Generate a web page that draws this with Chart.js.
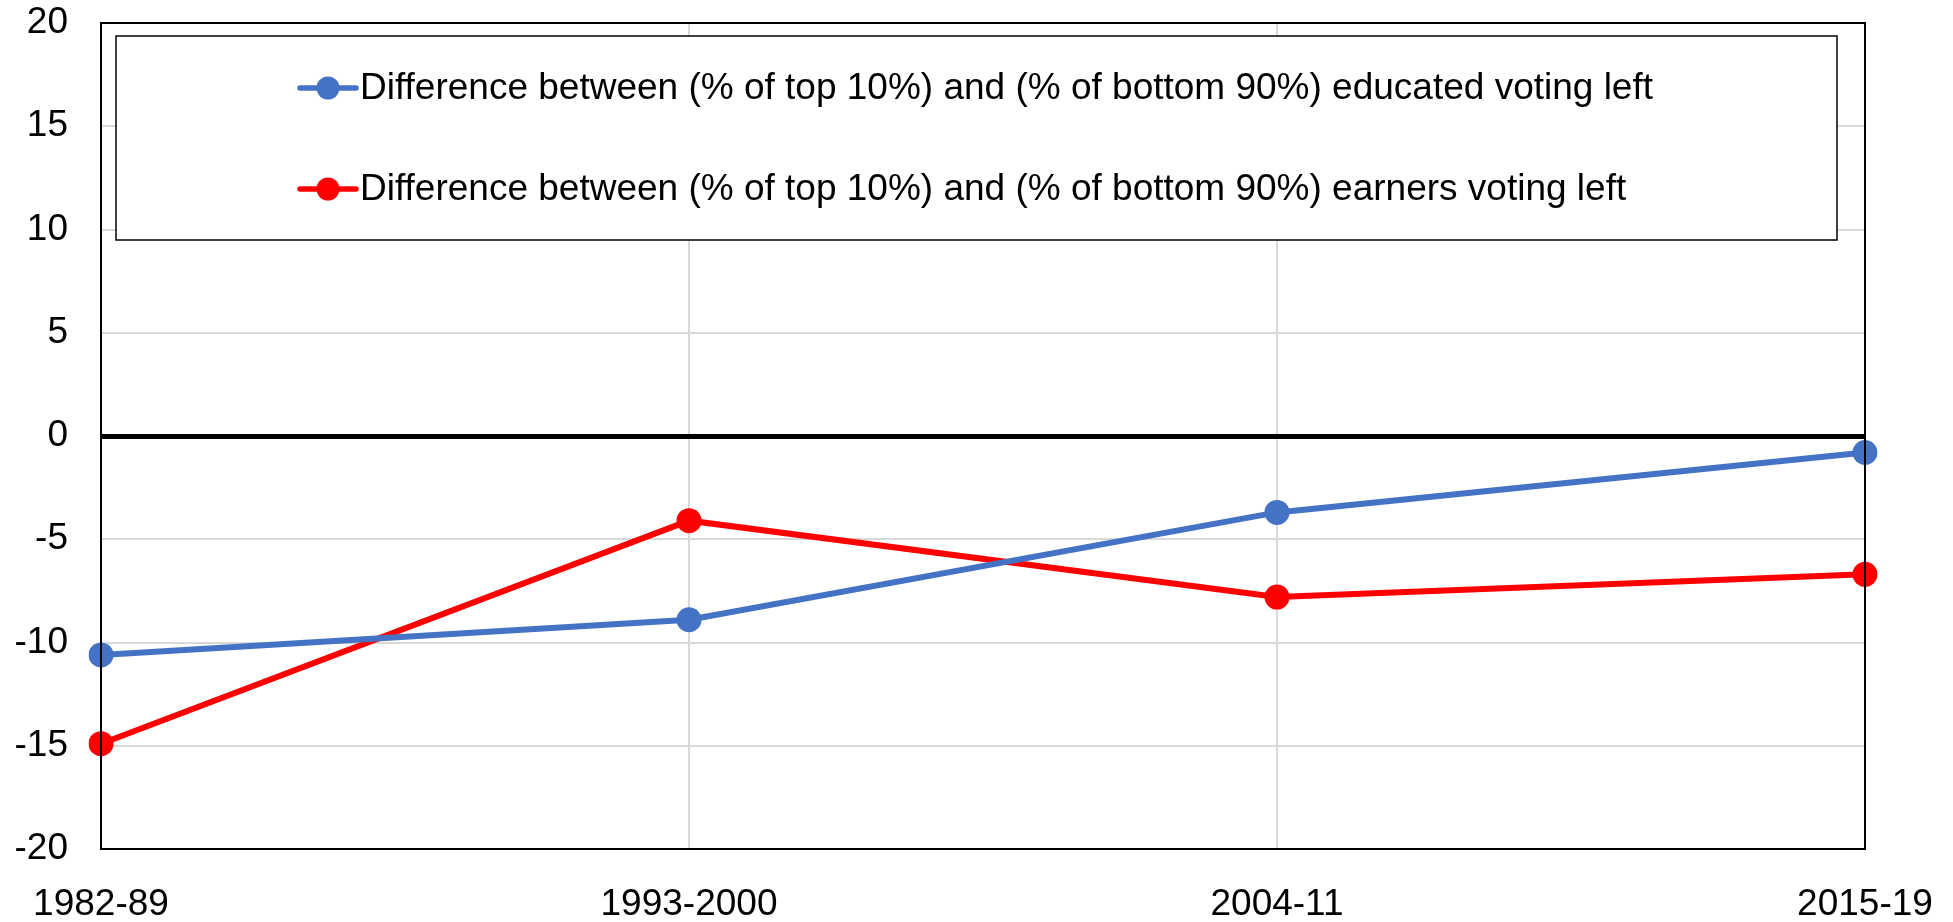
<!DOCTYPE html>
<html>
<head>
<meta charset="utf-8">
<script src="https://cdn.jsdelivr.net/npm/chart.js@4.4.1/dist/chart.umd.min.js"></script>
<style>
  html, body { margin: 0; padding: 0; background: #fff; }
  #wrap { width: 1953px; height: 922px; }
</style>
</head>
<body>
<div id="wrap"><canvas id="myChart" width="1953" height="922"></canvas></div>
<script>
const periods = ['1982-89', '1993-2000', '2004-11', '2015-19'];
const educatedGap = [-10.6, -8.9, -3.7, -0.8];
const earnersGap = [-14.9, -4.1, -7.8, -6.7];
const yTicks = [-20, -15, -10, -5, 0, 5, 10, 15, 20];

const FONT = "'Liberation Sans', Arial, sans-serif";
const FS = 37;

// legend box drawn inside the plot, plus the black frame round the plot
const boxLegend = {
    id: 'boxLegend',
    afterDraw(chart) {
        const c = chart.ctx;
        const a = chart.chartArea;
        c.save();
        c.strokeStyle = '#000';
        c.lineWidth = 2;
        c.strokeRect(a.left, a.top, a.right - a.left, a.bottom - a.top);

        const bx = a.left + 15, by = a.top + 13;
        const bw = a.right - a.left - 43, bh = 204;
        c.fillStyle = '#fff';
        c.fillRect(bx, by, bw, bh);
        c.lineWidth = 1.5;
        c.strokeRect(bx, by, bw, bh);

        c.font = FS + 'px ' + FONT;
        c.textBaseline = 'middle';
        c.textAlign = 'left';
        const items = chart.data.datasets;
        let maxW = 0;
        items.forEach(d => { maxW = Math.max(maxW, c.measureText(d.label).width); });
        const symW = 56, gap = 4;
        const startX = bx + (bw - (symW + gap + maxW)) / 2;
        items.forEach((d, i) => {
            const y = by + 52 + i * 101;
            c.strokeStyle = d.borderColor;
            c.lineWidth = 5.5;
            c.lineCap = 'round';
            c.beginPath();
            c.moveTo(startX, y);
            c.lineTo(startX + symW, y);
            c.stroke();
            c.fillStyle = d.borderColor;
            c.beginPath();
            c.arc(startX + symW / 2, y, 11.5, 0, Math.PI * 2);
            c.fill();
            c.fillStyle = '#000';
            c.fillText(d.label, startX + symW + gap, y + 1);
        });
        c.restore();
    }
};

const ctx = document.getElementById('myChart');
const myChart = new Chart(ctx, {
    type: 'line',
    data: {
        labels: periods,
        datasets: [
            {
                label: 'Difference between (% of top 10%) and (% of bottom 90%) educated voting left',
                data: educatedGap,
                borderColor: '#4472C4',
                backgroundColor: '#4472C4',
                borderWidth: 6,
                pointRadius: 12.5,
                pointHoverRadius: 12.5,
                pointBorderWidth: 0,
                fill: false
            },
            {
                label: 'Difference between (% of top 10%) and (% of bottom 90%) earners voting left',
                data: earnersGap,
                borderColor: '#FF0000',
                backgroundColor: '#FF0000',
                borderWidth: 6,
                pointRadius: 12.5,
                pointHoverRadius: 12.5,
                pointBorderWidth: 0,
                fill: false
            }
        ]
    },
    options: {
        responsive: false,
        animation: false,
        layout: { padding: { left: 0, right: 88, top: 23, bottom: 0 } },
        plugins: {
            legend: { display: false },
            tooltip: { enabled: false }
        },
        scales: {
            x: {
                offset: false,
                grid: { color: '#d9d9d9', lineWidth: 2, drawTicks: false },
                border: { display: false },
                ticks: { color: '#000', font: { family: FONT, size: FS }, padding: 34, maxRotation: 0 },
                afterFit: s => { s.height = 73; s.paddingLeft = 0; s.paddingRight = 0; }
            },
            y: {
                min: yTicks[0],
                max: yTicks[yTicks.length - 1],
                afterBuildTicks: s => { s.ticks = yTicks.map(v => ({ value: v })); },
                grid: {
                    drawTicks: false,
                    color: c => c.tick && c.tick.value === 0 ? '#000' : '#d9d9d9',
                    lineWidth: c => c.tick && c.tick.value === 0 ? 5 : 2
                },
                border: { display: false },
                ticks: { color: '#000', font: { family: FONT, size: FS }, padding: 33 },
                afterFit: s => { s.width = 101; s.paddingTop = 0; s.paddingBottom = 0; }
            }
        }
    },
    plugins: [boxLegend]
});
</script>
</body>
</html>
